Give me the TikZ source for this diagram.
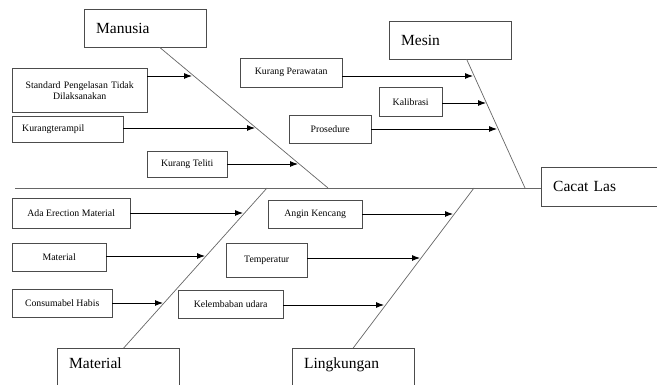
\documentclass[tikz,border=0pt]{standalone}
\usepackage{fontspec}
\setmainfont{Liberation Serif}
\usetikzlibrary{arrows.meta}

\begin{document}
\begin{tikzpicture}[x=1pt,y=-1pt,
    head/.style={draw=black!70, anchor=north west, text width=98pt, inner xsep=12pt,
      minimum height=38pt, align=left, font=\fontsize{15.5}{18}\selectfont},
    cause/.style={draw=black!70, anchor=north west, inner sep=0pt, align=center,
      font=\fontsize{9.8}{11}\selectfont},
    bone/.style={draw=black!60, line width=0.7pt},
    arr/.style={-{Latex[length=8pt,width=6pt]}, line width=0.9pt}]
  \useasboundingbox (0,0) rectangle (657,385);
  % heads
  \node[head] (man) at (84,9) {Manusia};
  \node[head] (mes) at (389,21) {Mesin};
  \node[head, minimum height=39pt] (cl) at (541,167) {Cacat Las};
  \node[head, text height=14pt, text depth=15pt, inner ysep=6pt] (mat) at (57,348) {Material};
  \node[head, text height=14pt, text depth=15pt, inner ysep=6pt] (lin) at (292,348) {Lingkungan};
  % spine and bones
  \coordinate (tail) at (15,188);
  \coordinate (jm) at (328,188);
  \coordinate (js) at (525,188);
  \coordinate (jt) at (267,188);
  \coordinate (jl) at (474,188);
  \draw[bone] (tail) -- (tail -| cl.west);
  \draw[bone] ([xshift=14.5pt]man.south) -- (jm);
  \draw[bone] ([xshift=16.5pt]mes.south) -- (js);
  \draw[bone] ([xshift=5.5pt]mat.north) -- (jt);
  \draw[bone] (lin.north) -- (jl);
  % causes
  \node[cause, minimum width=135, minimum height=44, text width=132] (std) at (12,68)
    {Standard Pengelasan Tidak\\Dilaksanakan};
  \node[cause, minimum height=26, text width=91pt, inner xsep=10pt, align=left] (kt) at (12,116) {Kurangterampil};
  \node[cause, minimum width=80, minimum height=26] (kl) at (147,151) {Kurang Teliti};
  \node[cause, minimum width=102, minimum height=29] (kp) at (240,58) {Kurang Perawatan};
  \node[cause, minimum width=63, minimum height=29] (kb) at (379,87) {Kalibrasi};
  \node[cause, minimum width=82, minimum height=28] (pr) at (289,115) {Prosedure};
  \node[cause, minimum width=118, minimum height=30] (ae) at (12,198) {Ada Erection Material};
  \node[cause, minimum width=94, minimum height=28] (m1) at (12,243) {Material};
  \node[cause, minimum width=100, minimum height=28] (ch) at (12,289) {Consumabel Habis};
  \node[cause, minimum width=94, minimum height=28] (ak) at (268,200) {Angin Kencang};
  \node[cause, minimum width=81, minimum height=34] (tp) at (226,243) {Temperatur};
  \node[cause, minimum width=105, minimum height=28] (ku) at (178,290) {Kelembaban udara};
  % arrow tips on the bones
  \coordinate (a1) at (192,76);
  \coordinate (a2) at (255,128);
  \coordinate (a3) at (298,164);
  \coordinate (b1) at (473,76);
  \coordinate (b2) at (486,103);
  \coordinate (b3) at (497,129);
  \coordinate (c1) at (243,213);
  \coordinate (c2) at (205,256);
  \coordinate (c3) at (163,303);
  \coordinate (d1) at (453,214);
  \coordinate (d2) at (420,258);
  \coordinate (d3) at (384,305);
  \draw[arr] (std.east |- a1) -- (a1);
  \draw[arr] (kt.east |- a2) -- (a2);
  \draw[arr] (kl.east |- a3) -- (a3);
  \draw[arr] (kp.east |- b1) -- (b1);
  \draw[arr] (kb.east |- b2) -- (b2);
  \draw[arr] (pr.east |- b3) -- (b3);
  \draw[arr] (ae.east |- c1) -- (c1);
  \draw[arr] (m1.east |- c2) -- (c2);
  \draw[arr] (ch.east |- c3) -- (c3);
  \draw[arr] (ak.east |- d1) -- (d1);
  \draw[arr] (tp.east |- d2) -- (d2);
  \draw[arr] (ku.east |- d3) -- (d3);
\end{tikzpicture}
\end{document}
